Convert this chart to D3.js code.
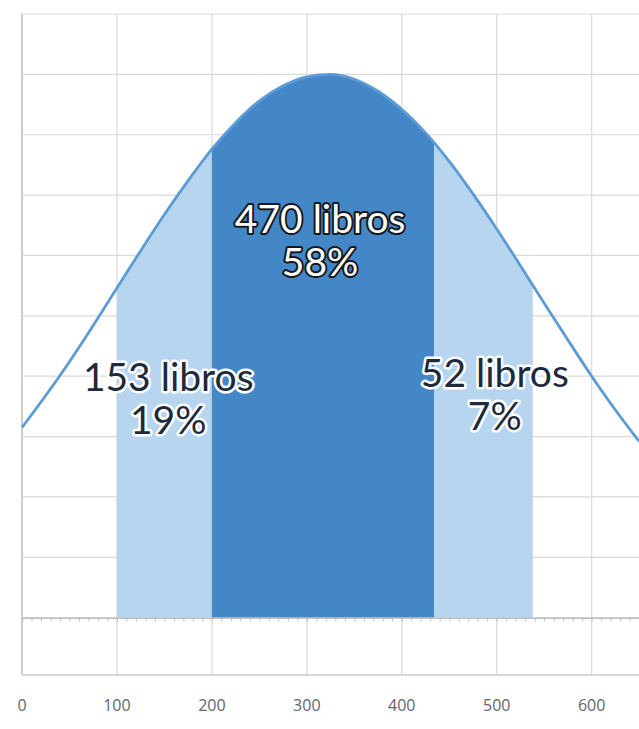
<!DOCTYPE html>
<html>
<head>
<meta charset="utf-8">
<script src="https://cdn.jsdelivr.net/npm/d3@7/dist/d3.min.js"></script>
<style>
    html, body { margin: 0; padding: 0; background: #ffffff; }
    #chart { width: 639px; height: 729px; }
    .band-label { font-family: Lato, "Noto Sans", sans-serif; font-size: 39px; text-anchor: middle; paint-order: stroke; stroke-linejoin: round; }
    .band-label.on-dark { fill: #ffffff; stroke: #16181c; stroke-width: 4px; }
    .band-label.on-light { fill: #1c2a3c; stroke: #ffffff; stroke-width: 5px; }
    .tick-label { font-family: "Open Sans", "DejaVu Sans", sans-serif; font-size: 16px; fill: #5d6670; text-anchor: middle; }
</style>
</head>
<body>
<div id="chart"></div>
<script>
// curve, one point every 25 units
const CURVE_X = [0, 25, 50, 75, 100, 125, 150, 175, 200, 225, 250, 275, 300, 325,
    350, 375, 400, 425, 450, 475, 500, 525, 550, 575, 600, 625, 650];
const CURVE_Y = [3.15, 3.68, 4.24, 4.84, 5.46, 6.08, 6.68, 7.24, 7.76, 8.2, 8.56, 8.81, 8.96, 9.0,
    8.92, 8.72, 8.42, 8.03, 7.56, 7.02, 6.44, 5.83, 5.21, 4.6, 4.0, 3.44, 2.92];

const BAND_EDGES = [100, 200, 434, 538];
const BAND_TONES = ['light', 'dark', 'light'];
const BAND_BOOKS = [153, 470, 52];
const BAND_SHARES = ['19%', '58%', '7%'];

const X_TICKS = [0, 100, 200, 300, 400, 500, 600];
const Y_GRID = [0, 1, 2, 3, 4, 5, 6, 7, 8, 9, 10];

// where each band label sits, in data units (first line baseline)
const LABEL_LAYOUT = [
    { x: 154, y: 3.76 },
    { x: 314, y: 6.37 },
    { x: 498, y: 3.82 }
];

const COLORS = {
    grid: '#d9d9d9',
    frame: '#cdcdcd',
    axis: '#bfbfbf',
    light: '#b5d3ee',
    dark: '#3c82c5',
    curve: '#5b9bd6'
};

const width = 639;
const height = 729;
const plot = { left: 22, top: 14, bottom: 675, right: 686.6 };

const svg = d3.select('#chart').append('svg')
    .attr('width', width)
    .attr('height', height);

const xScale = d3.scaleLinear()
    .domain([0, 700])
    .range([plot.left, plot.right]);

const yScale = d3.scaleLinear()
    .domain([-0.95, 10])
    .range([plot.bottom, plot.top]);

const curveData = CURVE_X.map((x, index) => ({ x, y: CURVE_Y[index] }));

// grid
const grid = svg.append('g').attr('class', 'grid');

grid.selectAll('.v-line')
    .data(X_TICKS)
    .enter()
    .append('line')
    .attr('x1', (d) => xScale(d))
    .attr('x2', (d) => xScale(d))
    .attr('y1', plot.top)
    .attr('y2', plot.bottom)
    .attr('stroke', (d) => d === 0 ? COLORS.frame : COLORS.grid)
    .attr('stroke-width', (d) => d === 0 ? 2 : 1.2);

grid.selectAll('.h-line')
    .data(Y_GRID)
    .enter()
    .append('line')
    .attr('x1', plot.left)
    .attr('x2', width)
    .attr('y1', (d) => yScale(d))
    .attr('y2', (d) => yScale(d))
    .attr('stroke', COLORS.grid)
    .attr('stroke-width', 1.2);

grid.append('line')
    .attr('x1', plot.left)
    .attr('x2', width)
    .attr('y1', plot.bottom)
    .attr('y2', plot.bottom)
    .attr('stroke', COLORS.frame)
    .attr('stroke-width', 1.5);

// shaded bands under the curve
const areaGenerator = d3.area()
    .x((d) => xScale(d.x))
    .y0(yScale(0))
    .y1((d) => yScale(d.y))
    .curve(d3.curveMonotoneX);

const defs = svg.append('defs');

BAND_TONES.forEach((tone, index) => {
    const start = BAND_EDGES[index];
    const end = BAND_EDGES[index + 1];
    const clipId = `band-clip-${index}`;

    defs.append('clipPath')
        .attr('id', clipId)
        .append('rect')
        .attr('x', xScale(start))
        .attr('y', plot.top)
        .attr('width', xScale(end) - xScale(start))
        .attr('height', yScale(0) - plot.top);

    svg.append('path')
        .datum(curveData)
        .attr('clip-path', `url(#${clipId})`)
        .attr('fill', COLORS[tone])
        .attr('fill-opacity', 0.96)
        .attr('d', areaGenerator);
});

// x axis at zero with minor ticks
svg.append('g')
    .attr('transform', `translate(0,${yScale(0)})`)
    .call(d3.axisBottom(xScale).tickValues(d3.range(0, 701, 10)).tickSize(4).tickFormat(''))
    .call((group) => group.select('.domain').attr('stroke', COLORS.axis).attr('stroke-width', 1.5))
    .call((group) => group.selectAll('.tick line').attr('stroke', COLORS.axis));

// curve line
const lineGenerator = d3.line()
    .x((d) => xScale(d.x))
    .y((d) => yScale(d.y))
    .curve(d3.curveMonotoneX);

svg.append('path')
    .datum(curveData)
    .attr('fill', 'none')
    .attr('stroke', COLORS.curve)
    .attr('stroke-width', 2.8)
    .attr('stroke-linejoin', 'round')
    .attr('d', lineGenerator);

// band labels
BAND_BOOKS.forEach((books, index) => {
    const spot = LABEL_LAYOUT[index];
    const tone = BAND_TONES[index] === 'dark' ? 'on-dark' : 'on-light';
    const label = svg.append('text')
        .attr('class', `band-label ${tone}`)
        .attr('x', xScale(spot.x))
        .attr('y', yScale(spot.y));

    label.append('tspan')
        .attr('x', xScale(spot.x))
        .text(`${books} libros`);

    label.append('tspan')
        .attr('x', xScale(spot.x))
        .attr('dy', 43)
        .text(BAND_SHARES[index]);
});

// tick labels below the frame
svg.selectAll('.tick-label')
    .data(X_TICKS)
    .enter()
    .append('text')
    .attr('class', 'tick-label')
    .attr('x', (d) => xScale(d))
    .attr('y', 711)
    .text((d) => d);
</script>
</body>
</html>
